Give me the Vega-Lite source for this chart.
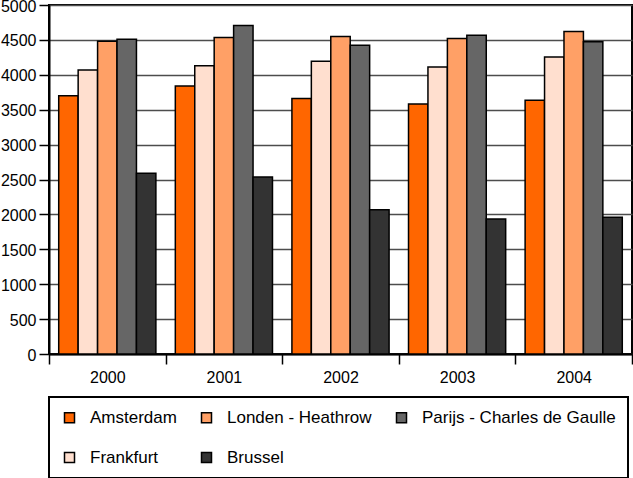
{
  "$schema": "https://vega.github.io/schema/vega-lite/v6.json",
  "width": 583,
  "height": 349,
  "autosize": {"type": "none"},
  "padding": {"left": 49, "top": 5, "right": 1, "bottom": 124},
  "background": "white",
  "config": {
    "font": "Liberation Sans",
    "view": {"stroke": "black", "strokeWidth": 2}
  },
  "data": {
    "values": [
      {"jaar": "2000", "luchthaven": "Amsterdam", "waarde": 3700},
      {"jaar": "2000", "luchthaven": "Frankfurt", "waarde": 4070},
      {"jaar": "2000", "luchthaven": "Londen - Heathrow", "waarde": 4480},
      {"jaar": "2000", "luchthaven": "Parijs - Charles de Gaulle", "waarde": 4510},
      {"jaar": "2000", "luchthaven": "Brussel", "waarde": 2590},
      {"jaar": "2001", "luchthaven": "Amsterdam", "waarde": 3840},
      {"jaar": "2001", "luchthaven": "Frankfurt", "waarde": 4130},
      {"jaar": "2001", "luchthaven": "Londen - Heathrow", "waarde": 4535},
      {"jaar": "2001", "luchthaven": "Parijs - Charles de Gaulle", "waarde": 4705},
      {"jaar": "2001", "luchthaven": "Brussel", "waarde": 2535},
      {"jaar": "2002", "luchthaven": "Amsterdam", "waarde": 3660},
      {"jaar": "2002", "luchthaven": "Frankfurt", "waarde": 4195},
      {"jaar": "2002", "luchthaven": "Londen - Heathrow", "waarde": 4550},
      {"jaar": "2002", "luchthaven": "Parijs - Charles de Gaulle", "waarde": 4425},
      {"jaar": "2002", "luchthaven": "Brussel", "waarde": 2065},
      {"jaar": "2003", "luchthaven": "Amsterdam", "waarde": 3580},
      {"jaar": "2003", "luchthaven": "Frankfurt", "waarde": 4110},
      {"jaar": "2003", "luchthaven": "Londen - Heathrow", "waarde": 4520},
      {"jaar": "2003", "luchthaven": "Parijs - Charles de Gaulle", "waarde": 4565},
      {"jaar": "2003", "luchthaven": "Brussel", "waarde": 1935},
      {"jaar": "2004", "luchthaven": "Amsterdam", "waarde": 3635},
      {"jaar": "2004", "luchthaven": "Frankfurt", "waarde": 4255},
      {"jaar": "2004", "luchthaven": "Londen - Heathrow", "waarde": 4620},
      {"jaar": "2004", "luchthaven": "Parijs - Charles de Gaulle", "waarde": 4475},
      {"jaar": "2004", "luchthaven": "Brussel", "waarde": 1960}
    ]
  },
  "mark": {"type": "bar", "stroke": "black", "strokeWidth": 1.5},
  "encoding": {
    "x": {
      "field": "jaar",
      "type": "nominal",
      "scale": {"paddingInner": 0, "paddingOuter": 0},
      "axis": {
        "title": null,
        "labelAngle": 0,
        "labelFontSize": 16,
        "labelColor": "black",
        "labelPadding": 5,
        "tickBand": "extent",
        "tickSize": 10,
        "tickColor": "black",
        "tickWidth": 1.5,
        "domainColor": "black",
        "domainWidth": 2
      }
    },
    "xOffset": {
      "field": "luchthaven",
      "type": "nominal",
      "sort": ["Amsterdam", "Frankfurt", "Londen - Heathrow", "Parijs - Charles de Gaulle", "Brussel"],
      "scale": {"paddingInner": 0, "paddingOuter": 0.5}
    },
    "y": {
      "field": "waarde",
      "type": "quantitative",
      "scale": {"domain": [0, 5000], "nice": false},
      "axis": {
        "title": null,
        "format": "d",
        "values": [0, 500, 1000, 1500, 2000, 2500, 3000, 3500, 4000, 4500, 5000],
        "labelFontSize": 16,
        "labelColor": "black",
        "labelPadding": 3,
        "labelOffset": 1,
        "tickSize": 10,
        "tickColor": "black",
        "tickWidth": 1.5,
        "domainColor": "black",
        "domainWidth": 2,
        "grid": true,
        "gridColor": "#4d4d4d",
        "gridWidth": 1.4,
        "gridOpacity": 1
      }
    },
    "color": {
      "field": "luchthaven",
      "type": "nominal",
      "scale": {
        "domain": ["Amsterdam", "Londen - Heathrow", "Parijs - Charles de Gaulle", "Frankfurt", "Brussel"],
        "range": ["#FF6600", "#FFA066", "#666666", "#FFDFCF", "#333333"]
      },
      "legend": {
        "title": null,
        "orient": "none",
        "legendX": 0,
        "legendY": 392,
        "direction": "horizontal",
        "columns": 3,
        "columnPadding": 21,
        "rowPadding": 22,
        "padding": 12,
        "strokeColor": "black",
        "fillColor": "white",
        "symbolType": "square",
        "symbolSize": 100,
        "symbolStrokeColor": "black",
        "symbolStrokeWidth": 1.5,
        "symbolOpacity": 1,
        "labelFontSize": 17,
        "labelColor": "black",
        "labelOffset": 12,
        "labelLimit": 400,
        "encode": {"legend": {"update": {"strokeWidth": {"value": 2}}}}
      }
    }
  }
}
